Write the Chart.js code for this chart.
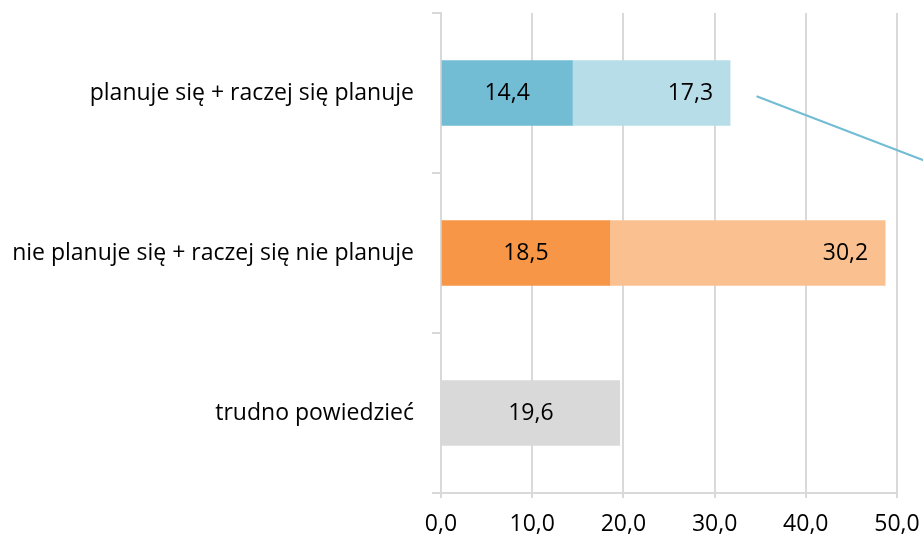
<!DOCTYPE html>
<html>
<head>
<meta charset="utf-8">
<script src="https://cdn.jsdelivr.net/npm/chart.js@4"></script>
<style>
  html, body { margin: 0; padding: 0; background: #fff; overflow: hidden; }
  #wrap { width: 960px; height: 540px; }
</style>
</head>
<body>
<div id="wrap"><canvas id="barChart"></canvas></div>
<script>
const categories = ['planuje się + raczej się planuje', 'nie planuje się + raczej się nie planuje', 'trudno powiedzieć'];
const firstPart = [14.4, 18.5, 19.6];
const secondPart = [17.3, 30.2, null];
const firstColors = ['#72BCD4', '#F79646', '#D9D9D9'];
const secondColors = ['#B7DDE8', '#FAC090', '#D9D9D9'];
const axisMin = 0;
const axisMax = 50;
const axisStep = 10;

const fontFamily = '"Open Sans", Lato, sans-serif';
const fontSize = 23;
const fmt = v => v.toFixed(1).replace('.', ',');

// value labels: first part centred, second part at the inner end
const valueLabels = {
  id: 'valueLabels',
  afterDatasetsDraw(chart) {
    const c = chart.ctx;
    c.save();
    c.font = fontSize + 'px ' + fontFamily;
    c.fillStyle = '#000';
    c.textBaseline = 'middle';
    chart.data.datasets.forEach((ds, di) => {
      chart.getDatasetMeta(di).data.forEach((bar, i) => {
        const v = ds.data[i];
        if (v == null) return;
        if (di === 0) {
          c.textAlign = 'center';
          c.fillText(fmt(v), (bar.x + bar.base) / 2, bar.y);
        } else {
          c.textAlign = 'right';
          c.fillText(fmt(v), bar.x - 17, bar.y);
        }
      });
    });
    c.restore();
  }
};

// leader line to the callout outside the picture
const leaderLine = {
  id: 'leaderLine',
  afterDraw(chart) {
    const x = chart.scales.x, y = chart.scales.y;
    const c = chart.ctx;
    c.save();
    c.strokeStyle = '#72BCD4';
    c.lineWidth = 2;
    c.beginPath();
    c.moveTo(x.getPixelForValue(34.6), y.getPixelForValue(0.02));
    c.lineTo(x.getPixelForValue(52.9), y.getPixelForValue(0.42));
    c.stroke();
    c.restore();
  }
};

const ctx = document.getElementById('barChart').getContext('2d');

new Chart(ctx, {
  type: 'bar',
  data: {
    labels: categories,
    datasets: [{
      data: firstPart,
      backgroundColor: firstColors,
      barThickness: 65
    }, {
      data: secondPart,
      backgroundColor: secondColors,
      barThickness: 65
    }]
  },
  options: {
    indexAxis: 'y',
    responsive: true,
    maintainAspectRatio: false,
    animation: false,
    layout: { padding: { top: 13, right: 63, left: 0, bottom: 0 } },
    plugins: {
      legend: { display: false },
      tooltip: { enabled: false }
    },
    scales: {
      x: {
        stacked: true,
        min: axisMin,
        max: axisMax,
        ticks: {
          stepSize: axisStep,
          callback: v => fmt(v),
          color: '#000',
          font: { family: fontFamily, size: fontSize },
          padding: 13
        },
        grid: { color: '#D9D9D9', lineWidth: 2, tickLength: 5 },
        border: { color: '#D9D9D9', width: 2 },
        afterFit: s => { s.height = 47; s.paddingLeft = 0; s.paddingRight = 0; }
      },
      y: {
        stacked: true,
        ticks: {
          color: '#000',
          font: { family: fontFamily, size: fontSize },
          padding: 18
        },
        grid: { drawOnChartArea: false, color: '#D9D9D9', lineWidth: 2, tickLength: 9 },
        border: { color: '#D9D9D9', width: 2 },
        afterFit: s => { s.width = 441; s.paddingTop = 0; s.paddingBottom = 0; }
      }
    }
  },
  plugins: [valueLabels, leaderLine]
});
</script>
</body>
</html>
